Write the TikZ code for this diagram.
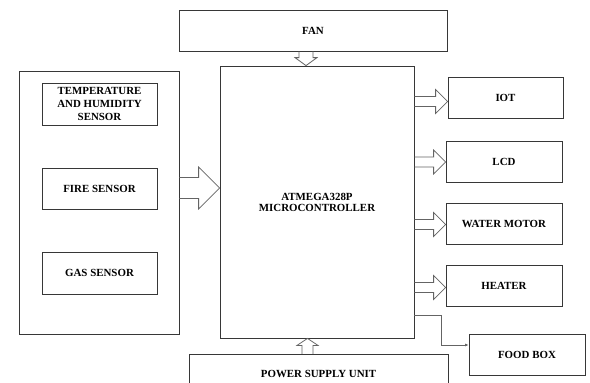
\documentclass[tikz,border=0pt]{standalone}
\usepackage{fontspec}
\setmainfont{Liberation Serif}
\usepackage{tikz}
\usetikzlibrary{arrows.meta,calc,positioning}
\definecolor{boxGray}  {RGB}{55, 55, 55}
\definecolor{arrowGray}{RGB}{100,100,100}

\tikzset{
  block/.style={draw=boxGray,line width=0.8pt,rectangle,align=center,
                font=\fontsize{10.9}{13}\selectfont\bfseries,inner sep=2pt},
  blockarrow/.style={draw=arrowGray,line width=0.8pt,line join=miter},
  wire/.style={draw=arrowGray,line width=0.8pt,-{Latex[length=3.5pt,width=3pt]}}
}

% hollow block arrows (from, to, shaft half, head half, head length)
\newcommand{\blockright}[5]{%
  \draw[blockarrow] let \p1=(#1), \p2=(#2) in
    (\x1,\y1+#3) -- (\x2-#5,\y1+#3) -- (\x2-#5,\y1+#4) -- (\x2,\y1)
    -- (\x2-#5,\y1-#4) -- (\x2-#5,\y1-#3) -- (\x1,\y1-#3);}
\newcommand{\blockdown}[5]{%
  \draw[blockarrow] let \p1=(#1), \p2=(#2) in
    (\x1-#3,\y1) -- (\x1-#3,\y2+#5) -- (\x1-#4,\y2+#5) -- (\x1,\y2)
    -- (\x1+#4,\y2+#5) -- (\x1+#3,\y2+#5) -- (\x1+#3,\y1);}
\newcommand{\blockup}[5]{%
  \draw[blockarrow] let \p1=(#1), \p2=(#2) in
    (\x1-#3,\y1) -- (\x1-#3,\y2-#5) -- (\x1-#4,\y2-#5) -- (\x1,\y2)
    -- (\x1+#4,\y2-#5) -- (\x1+#3,\y2-#5) -- (\x1+#3,\y1);}

\begin{document}
\begin{tikzpicture}[x=1pt,y=-1pt]
  \fill[white] (0,0) rectangle (590,383);
  \clip (0,0) rectangle (590,383);

  % ── controller and supply ─────────────────────────────
  \node[block,minimum width=268,minimum height=41] (fan) at (313,30.5) {FAN};
  \node[block,minimum width=194,minimum height=272] (mcu) at (317,202)
    {ATMEGA328P\\[-2pt]MICROCONTROLLER};
  \node[block,minimum width=259,minimum height=41] (psu) at (318.5,375)
    {\raisebox{3pt}{POWER SUPPLY UNIT}};

  % ── sensors ───────────────────────────────────────────
  \node[block,minimum width=160,minimum height=263] (sensors) at (99,202.5) {};
  \node[block,minimum width=115,minimum height=42] (temp) at (99.5,104)
    {TEMPERATURE\\AND HUMIDITY\\SENSOR};
  \node[block,minimum width=115,minimum height=41] (fire) at (99.5,188.5) {FIRE SENSOR};
  \node[block,minimum width=115,minimum height=42] (gas) at (99.5,273) {GAS SENSOR};

  % ── outputs ───────────────────────────────────────────
  \node[block,minimum width=115,minimum height=41] (iot) at (505.5,97.5) {IOT};
  \node[block,minimum width=116,minimum height=41] (lcd) at (504,161.5) {LCD};
  \node[block,minimum width=116,minimum height=41] (water) at (504,223.5) {WATER MOTOR};
  \node[block,minimum width=116,minimum height=41] (heater) at (504,286) {HEATER};
  \node[block,minimum width=116,minimum height=41] (food) at (527,354.5) {FOOD BOX};

  % arrows
  \coordinate (sensout) at ($(sensors.east)+(0,-14.5)$);
  \blockright{sensout}{mcu.west}{10.5}{21}{21}
  \coordinate (fanout) at ($(fan.south)+(-7,0)$);
  \blockdown{fanout}{mcu.north}{7}{11}{8}
  \coordinate (psuout) at ($(psu.north)+(-11,0)$);
  \blockup{psuout}{mcu.south}{5.5}{10.5}{7}
  \foreach \dev/\dy in {iot/4, lcd/0.5, water/1, heater/1.5}{
    \coordinate (\dev in) at ($(\dev.west)+(0,\dy)$);
    \blockright{mcu.east |- \dev in}{\dev in}{5}{12}{12}
  }

  % food box feed
  \coordinate (foodout) at ($(mcu.east)+(0,113)$);
  \coordinate (foodin) at ($(food.west)+(0,-9.5)$);
  \coordinate (foodbend) at ($(foodout -| foodin)+(-27,0)$);
  \draw[wire] (foodout) -| (foodbend) |- (foodin);

\end{tikzpicture}
\end{document}
